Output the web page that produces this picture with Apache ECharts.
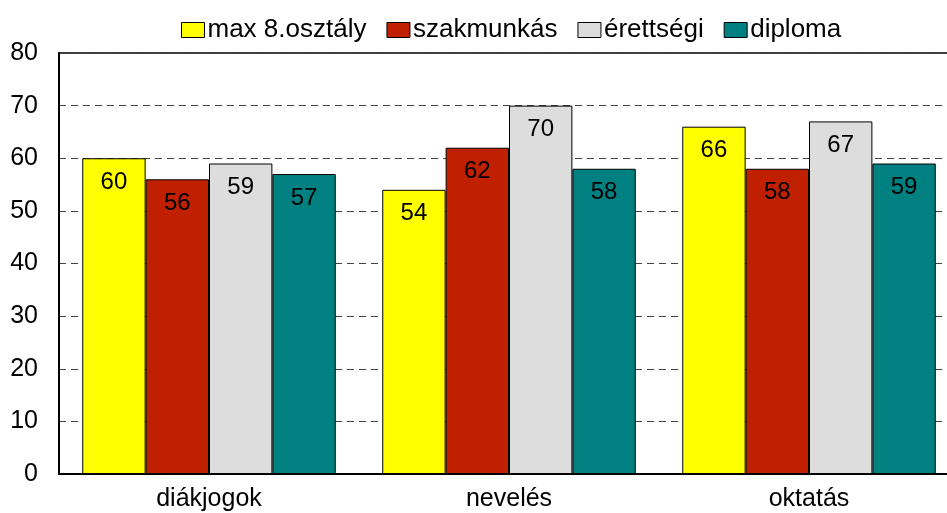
<!DOCTYPE html>
<html>
<head>
	<meta charset="UTF-8">
	<title>chart</title>
	<style>
		html, body { margin: 0; padding: 0; background: #fff; }
		#display { width: 947px; height: 513px; }
	</style>
</head>
<body>
	<div id="display"></div>
	<script src="https://cdn.jsdelivr.net/npm/echarts@6/dist/echarts.min.js"></script>
	<script>
		var categories = ['diákjogok', 'nevelés', 'oktatás'];
		var seriesNames = ['max 8.osztály', 'szakmunkás', 'érettségi', 'diploma'];
		var maxOsztaly = [60, 54, 66];
		var szakmunkas = [56, 62, 58];
		var erettsegi = [59, 70, 67];
		var diploma = [57, 58, 59];
		var colors = ['#FFFF00', '#C02000', '#DDDDDD', '#008080'];

		var values = [maxOsztaly, szakmunkas, erettsegi, diploma];
		var font = 'Liberation Sans, Arial, sans-serif';

		var series = values.map(function (v, i) {
			return {
				name: seriesNames[i],
				type: 'bar',
				data: v,
				barGap: 0,
				barCategoryGap: '15.5%',
				itemStyle: { color: colors[i], borderColor: '#000', borderWidth: 1 },
				label: {
					show: true,
					position: 'insideTop',
					distance: 12,
					color: '#000',
					fontSize: 24,
					fontFamily: font
				}
			};
		});

		var myChart = echarts.init(document.getElementById('display'));
		myChart.setOption({
			animation: false,
			color: colors,
			legend: {
				top: 12,
				left: 176,
				itemWidth: 23,
				itemHeight: 15,
				itemGap: 20,
				icon: 'rect',
				textStyle: { fontSize: 26, fontFamily: font, color: '#000', padding: [0, 0, 0, -2] },
				itemStyle: { borderColor: '#000', borderWidth: 1 },
				data: seriesNames
			},
			grid: {
				left: 59, width: 900, top: 53, bottom: 39,
				show: true, borderColor: '#000', borderWidth: 1.5,
				containLabel: false,
				outerBoundsMode: 'none'
			},
			xAxis: {
				type: 'category',
				data: categories,
				axisLine: { lineStyle: { color: '#000', width: 2 } },
				axisTick: { show: false },
				axisLabel: { fontSize: 25, fontFamily: font, color: '#000', margin: 13 }
			},
			yAxis: {
				type: 'value',
				min: 0, max: 80, interval: 10,
				axisLine: { show: true, lineStyle: { color: '#000', width: 2 } },
				axisTick: { show: false },
				axisLabel: { fontSize: 25, fontFamily: font, color: '#000', margin: 21 },
				splitLine: { lineStyle: { color: '#444', type: [7, 5], width: 1 } }
			},
			series: series
		});
	</script>
</body>
</html>
